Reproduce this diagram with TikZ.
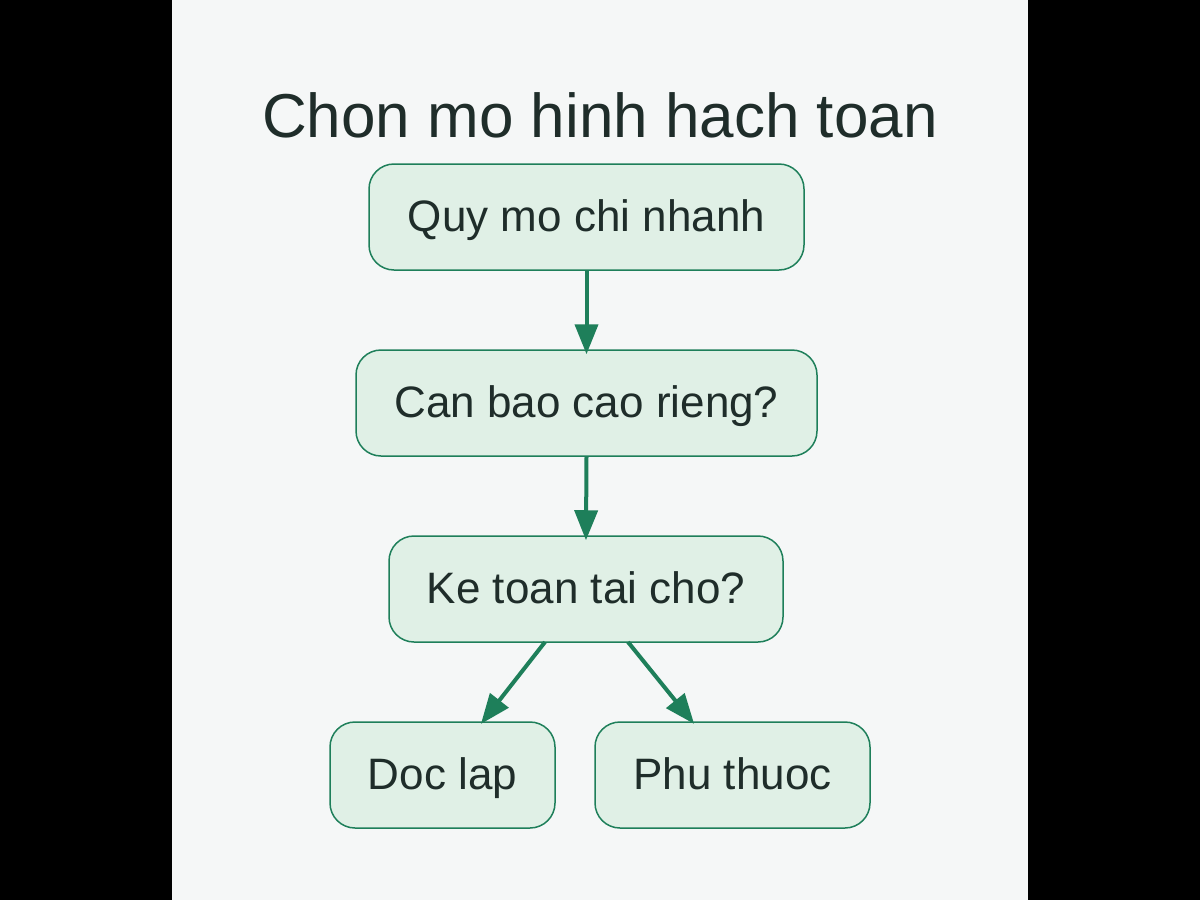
\documentclass[tikz,border=0pt]{standalone}
\usepackage{fontspec}
\setmainfont{Liberation Sans}
\usetikzlibrary{arrows.meta}
\definecolor{bgc}{HTML}{F5F7F7}
\definecolor{edgec}{HTML}{1E7F5A}
\definecolor{fillc}{HTML}{E0F0E6}
\definecolor{txtc}{HTML}{1F2D2A}
\tikzset{
  box/.style={draw=edgec, line width=1.5pt, fill=fillc, rounded corners=25pt, inner sep=0pt,
    text=txtc, font=\fontsize{44}{52}\selectfont, minimum height=106pt,
    text height=39pt, text depth=11pt},
  conn/.style={draw=edgec, line width=4pt, -{Triangle[length=30pt,width=23pt]}, shorten >=-5pt}
}
\begin{document}
\begin{tikzpicture}[x=1pt,y=-1pt]
\fill[black] (0,0) rectangle (1200,900);
\fill[bgc] (172,0) rectangle (1028,900);
\useasboundingbox (0,0) rectangle (1200,900);
\node[text=txtc, font=\fontsize{62}{72}\selectfont, anchor=base] (title) at (600,137) {Chon mo hinh hach toan};
\node[box, minimum width=435pt] (a) at (586.5,217) {Quy mo chi nhanh};
\node[box, minimum width=461pt] (b) at (586.5,403) {Can bao cao rieng?};
\node[box, minimum width=394pt] (c) at (586,589) {Ke toan tai cho?};
\node[box, minimum width=225pt] (d) at (442.5,775) {Doc lap};
\node[box, minimum width=275pt] (e) at (732.5,775) {Phu thuoc};
\draw[conn] (a.south) -- (b.north);
\draw[conn] (b.south) -- (c.north);
\coordinate (c1) at (545,642);
\coordinate (c2) at (628,642);
\coordinate (d1) at (484,720);
\coordinate (e1) at (691,720);
\draw[conn] (c1) -- (d1);
\draw[conn] (c2) -- (e1);
\end{tikzpicture}
\end{document}
